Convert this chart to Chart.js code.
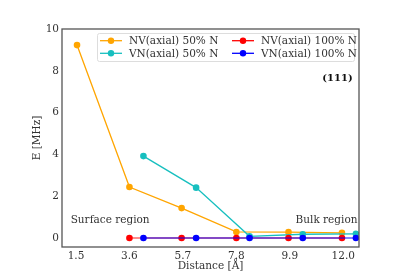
<!DOCTYPE html>
<html>
<head>
<meta charset="utf-8">
<script src="https://cdn.jsdelivr.net/npm/chart.js@4/dist/chart.umd.min.js"></script>
<style>
    html, body { margin: 0; padding: 0; background: #fff; }
    #wrap { width: 415px; height: 279px; }
</style>
</head>
<body>
<div id="wrap"><canvas id="chart" width="415" height="279"></canvas></div>
<script>
// values
const labels = ['NV(axial) 50% N', 'VN(axial) 50% N', 'NV(axial) 100% N', 'VN(axial) 100% N'];
const colors = ['#ffa500', '#17bfbf', '#ff0000', '#0000ff'];
const lineColors = ['#ffa500', '#17bfbf', 'rgba(255,0,0,0.6)', 'rgba(0,0,255,0.65)'];

const nv50X = [1.54, 3.6, 5.65, 7.8, 9.85, 11.95];
const nv50Y = [9.23, 2.44, 1.43, 0.29, 0.28, 0.25];
const vn50X = [4.15, 6.22, 8.32, 10.41, 12.5];
const vn50Y = [3.92, 2.41, 0.08, 0.18, 0.2];
const nv100X = [3.6, 5.65, 7.8, 9.85, 11.95];
const nv100Y = [0, 0, 0, 0, 0];
const vn100X = [4.15, 6.22, 8.32, 10.41, 12.5];
const vn100Y = [0, 0, 0, 0, 0];

const xTicks = [1.5, 3.6, 5.7, 7.8, 9.9, 12.0];
const yTicks = [0, 2, 4, 6, 8, 10];

const FONT = "'DejaVu Serif', serif";

function pts(xs, ys) {
    return xs.map((x, i) => ({ x: x, y: ys[i] }));
}

function makeSet(i, xs, ys, order) {
    return {
        label: labels[i],
        data: pts(xs, ys),
        borderColor: lineColors[i],
        backgroundColor: colors[i],
        pointBackgroundColor: colors[i],
        pointBorderColor: colors[i],
        borderWidth: 1.3,
        pointRadius: 3.3,
        pointBorderWidth: 0,
        showLine: true,
        tension: 0,
        order: order
    };
}

// frame, annotations and legend drawn inside the plot area
const extras = {
    id: 'extras',
    afterDatasetsDraw(chart) {
        const ctx = chart.ctx;
        const a = chart.chartArea;
        const xs = chart.scales.x, ys = chart.scales.y;
        ctx.save();
        ctx.strokeStyle = '#555';
        ctx.lineWidth = 1.3;
        ctx.strokeRect(a.left, a.top, a.right - a.left, a.bottom - a.top);

        ctx.fillStyle = '#333';
        ctx.textBaseline = 'middle';
        ctx.font = '10.5px ' + FONT;
        ctx.textAlign = 'left';
        ctx.fillText('Surface region', xs.getPixelForValue(1.29), ys.getPixelForValue(0.86));
        ctx.textAlign = 'right';
        ctx.fillText('Bulk region', xs.getPixelForValue(12.56), ys.getPixelForValue(0.86));
        ctx.font = 'bold 10px ' + FONT;
        ctx.fillStyle = '#111';
        ctx.fillText('(111)', xs.getPixelForValue(12.37), ys.getPixelForValue(7.66));

        // legend box
        const bx = 97, by = 33, bw = 257, bh = 28;
        ctx.fillStyle = 'rgba(255,255,255,0.85)';
        ctx.strokeStyle = '#dddddd';
        ctx.lineWidth = 1;
        ctx.beginPath();
        ctx.roundRect(bx + 0.5, by + 0.5, bw, bh, 2);
        ctx.fill();
        ctx.stroke();
        const cols = [100, 232];
        const rows = [40.7, 53.3];
        ctx.font = '10.5px ' + FONT;
        ctx.textAlign = 'left';
        labels.forEach((lab, i) => {
            const cx = cols[Math.floor(i / 2)];
            const cy = rows[i % 2];
            ctx.strokeStyle = colors[i];
            ctx.lineWidth = 1.3;
            ctx.beginPath();
            ctx.moveTo(cx, cy);
            ctx.lineTo(cx + 22, cy);
            ctx.stroke();
            ctx.fillStyle = colors[i];
            ctx.beginPath();
            ctx.arc(cx + 11, cy, 3.2, 0, Math.PI * 2);
            ctx.fill();
            ctx.fillStyle = '#333';
            ctx.fillText(lab, cx + 29, cy + 0.5);
        });
        ctx.restore();
    }
};

new Chart(document.getElementById('chart'), {
    type: 'scatter',
    data: {
        datasets: [
            makeSet(0, nv50X, nv50Y, 4),
            makeSet(1, vn50X, vn50Y, 3),
            makeSet(2, nv100X, nv100Y, 2),
            makeSet(3, vn100X, vn100Y, 1)
        ]
    },
    options: {
        responsive: false,
        animation: false,
        layout: { padding: { left: 31, top: 29, right: 56, bottom: 6 } },
        plugins: {
            legend: { display: false },
            tooltip: { enabled: false }
        },
        scales: {
            x: {
                type: 'linear',
                min: 0.95,
                max: 12.62,
                afterBuildTicks: s => { s.ticks = xTicks.map(v => ({ value: v })); },
                afterFit: s => { s.height = 26; },
                grid: { display: false, drawTicks: false },
                border: { display: false },
                ticks: {
                    color: '#333',
                    padding: 3,
                    font: { family: FONT, size: 10.5 },
                    callback: v => v.toFixed(1)
                },
                title: {
                    display: true,
                    text: 'Distance [Å]',
                    color: '#333',
                    padding: { top: 0, bottom: 0 },
                    font: { family: FONT, size: 10.5 }
                }
            },
            y: {
                type: 'linear',
                min: -0.43,
                max: 10,
                afterBuildTicks: s => { s.ticks = yTicks.map(v => ({ value: v })); },
                afterFit: s => { s.width = 31; },
                grid: { display: false, drawTicks: false },
                border: { display: false },
                ticks: {
                    color: '#333',
                    padding: 3,
                    font: { family: FONT, size: 10.5 }
                },
                title: {
                    display: true,
                    text: 'E [MHz]',
                    color: '#333',
                    padding: { top: 0, bottom: 0 },
                    font: { family: FONT, size: 10.5 }
                }
            }
        }
    },
    plugins: [extras]
});
</script>
</body>
</html>
